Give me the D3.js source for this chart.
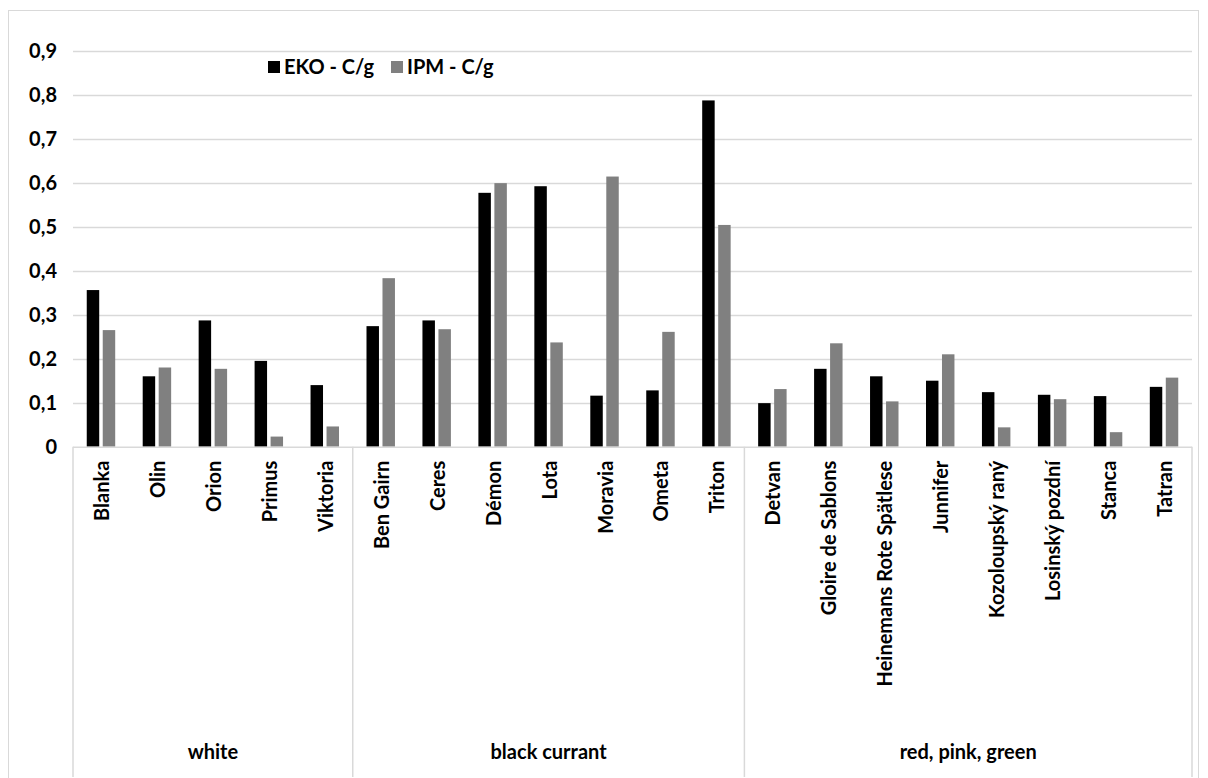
<!DOCTYPE html>
<html><head><meta charset="utf-8">
<script src="https://cdn.jsdelivr.net/npm/d3@7"></script>
<style>body{margin:0;background:#fff;} svg{display:block;font-family:Lato,"Open Sans",sans-serif;}</style>
</head><body>
<svg id="c" width="1208" height="778"></svg>
<script>
const groups = ["white","black currant","red, pink, green"];
const groupCategories = [
  ["Blanka","Olin","Orion","Primus","Viktoria"],
  ["Ben Gairn","Ceres","Démon","Lota","Moravia","Ometa","Triton"],
  ["Detvan","Gloire de Sablons","Heinemans Rote Spätlese","Junnifer","Kozoloupský raný","Losinský pozdní","Stanca","Tatran"]
];
const categories = groupCategories.flat();
const seriesNames = ["EKO - C/g","IPM - C/g"];
const eko = [0.356,0.160,0.287,0.195,0.140, 0.274,0.287,0.577,0.592,0.116,0.128,0.787, 0.099,0.177,0.160,0.150,0.124,0.118,0.115,0.136];
const ipm = [0.265,0.180,0.177,0.023,0.046, 0.383,0.267,0.599,0.237,0.614,0.261,0.504, 0.131,0.235,0.103,0.210,0.044,0.108,0.033,0.157];
const yTicks = [0,0.1,0.2,0.3,0.4,0.5,0.6,0.7,0.8,0.9];
const colors = ["#000000","#808080"];

const svg = d3.select("#c");
const L = 73, R = 1192, T = 50.7, B = 446.7, BOT = 777;
const FS = 20;
const fmt = v => v === 0 ? "0" : d3.format(".1f")(v).replace(".", ",");

// outer border
svg.append("rect").attr("x",8.5).attr("y",10.5).attr("width",1190).attr("height",768)
  .attr("fill","none").attr("stroke","#d9d9d9");

const x = d3.scaleBand().domain(categories).range([L,R]).paddingInner(0).paddingOuter(0);
const y = d3.scaleLinear().domain([0,0.9]).range([B,T]);

// gridlines
svg.append("g").selectAll("line").data(yTicks.slice(1)).join("line")
  .attr("x1",L).attr("x2",R).attr("y1",d=>Math.round(y(d))+0.5).attr("y2",d=>Math.round(y(d))+0.5)
  .attr("stroke","#d9d9d9").attr("stroke-width",1.5);

// y axis labels
const yAxis = d3.axisLeft(y).tickValues(yTicks).tickFormat(fmt).tickSize(0).tickPadding(16);
const ya = svg.append("g").attr("transform",`translate(${L},0)`).call(yAxis);
ya.select(".domain").remove();
ya.selectAll("text").attr("font-size",FS).attr("font-weight","bold").attr("fill","#000").attr("font-family","Lato");

// bars
const x1 = d3.scaleBand().domain([0,1]).range([0,x.bandwidth()]).paddingInner(0.22).paddingOuter(0.86);
const series = [eko, ipm];
series.forEach((vals,si)=>{
  svg.append("g").selectAll("rect").data(vals).join("rect")
    .attr("x",(d,i)=>x(categories[i])+x1(si))
    .attr("width",x1.bandwidth())
    .attr("y",d=>y(d)).attr("height",d=>y(0)-y(d))
    .attr("fill",colors[si]);
});

// category axis baseline
svg.append("line").attr("x1",L).attr("x2",R).attr("y1",B+0.5).attr("y2",B+0.5).attr("stroke","#d9d9d9").attr("stroke-width",1.5);

// group separators
let idx = 0; const seps = [0];
groupCategories.forEach(g=>{ idx += g.length; seps.push(idx); });
svg.append("g").selectAll("line").data(seps).join("line")
  .attr("x1",d=> d===categories.length ? R : x(categories[d]))
  .attr("x2",d=> d===categories.length ? R : x(categories[d]))
  .attr("y1",B).attr("y2",BOT).attr("stroke","#d9d9d9").attr("stroke-width",1.5);

// category labels (rotated)
svg.append("g").selectAll("text").data(categories).join("text")
  .attr("transform",d=>`translate(${x(d)+x.bandwidth()/2},${B+14}) rotate(-90)`)
  .attr("text-anchor","end").attr("dominant-baseline","central")
  .attr("font-size",FS).attr("font-weight","bold").attr("fill","#000")
  .text(d=>d);

// group labels
svg.append("g").selectAll("text").data(groups).join("text")
  .attr("x",(g,i)=> (x(categories[seps[i]]) + (seps[i+1]===categories.length ? R : x(categories[seps[i+1]])))/2)
  .attr("y",759).attr("text-anchor","middle")
  .attr("font-size",FS).attr("font-weight","bold").attr("fill","#000")
  .text(d=>d);

// legend
const lg = svg.append("g");
const legX = [268, 391];
seriesNames.forEach((n,i)=>{
  lg.append("rect").attr("x",legX[i]).attr("y",61).attr("width",12).attr("height",12).attr("fill",colors[i]);
  lg.append("text").attr("x",legX[i]+16).attr("y",74).attr("font-size",FS).attr("font-weight","bold").attr("fill","#000").text(n);
});
</script>
</body></html>
